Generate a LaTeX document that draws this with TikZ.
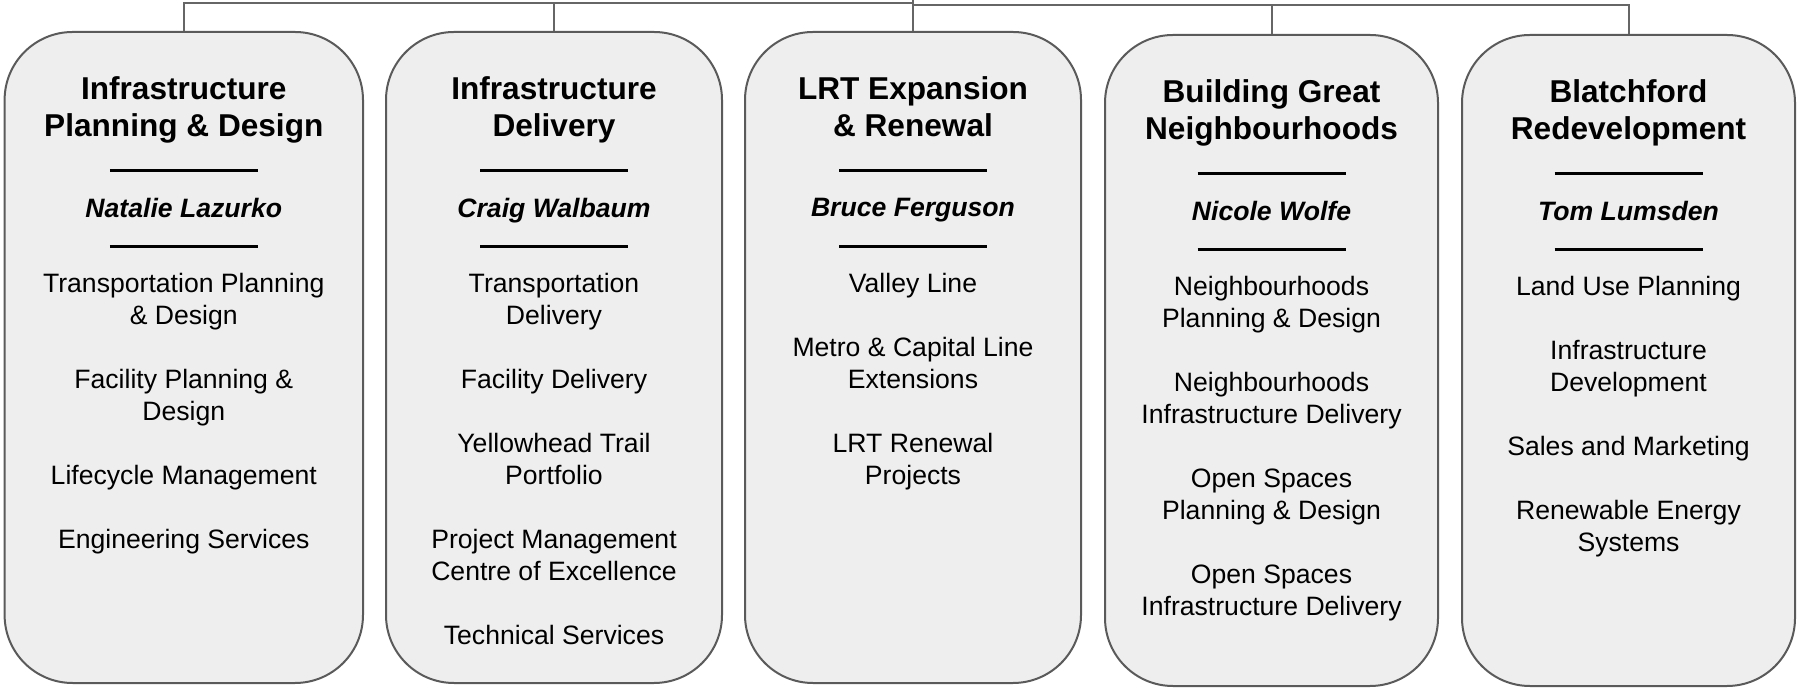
\documentclass[tikz,border=0pt]{standalone}
\usepackage{fontspec}
\setmainfont{Liberation Sans}
\usepackage{tikz}
\usetikzlibrary{positioning}
\definecolor{unitfill}{HTML}{EEEEEE}
\definecolor{unitdraw}{HTML}{5A5A5A}
\definecolor{linkgray}{HTML}{666666}

\begin{document}
\begin{tikzpicture}[x=0.5pt,y=-0.5pt,
  unit/.style={draw=unitdraw,line width=1pt,fill=unitfill,rounded corners=34pt,
    anchor=north,minimum height=325.5pt,inner sep=0pt},
  title/.style={inner sep=0pt,outer sep=0pt,align=center,
    font=\fontsize{15.8}{18.5}\selectfont\bfseries},
  head/.style={inner sep=0pt,outer sep=0pt,font=\fontsize{13.3}{16}\selectfont\bfseries\itshape},
  items/.style={inner sep=0pt,outer sep=0pt,align=center,font=\fontsize{13.3}{16}\selectfont},
  bar/.style={line width=1.5pt},
  link/.style={draw=linkgray,line width=1pt}]
\useasboundingbox (0,0) rectangle (1797,688);

% boxes
\node[unit,minimum width=179.2pt] (ipd) at (183.8,31) {};
\node[unit,minimum width=168pt] (ind) at (554,31) {};
\node[unit,minimum width=168pt] (lrt) at (913,31) {};
\node[unit,minimum width=166.5pt] (bgn) at (1271.5,34) {};
\node[unit,minimum width=166.5pt] (blr) at (1628.5,34) {};

% connectors
\coordinate (top) at (913,0);
\coordinate (busL) at (913,3);
\coordinate (busR) at (913,5);
\draw[link] (top) -- (lrt.north);
\draw[link] (busL) -| (ipd.north);
\draw[link] (busL) -| (ind.north);
\draw[link] (busR) -| (bgn.north);
\draw[link] (busR) -| (blr.north);

% titles
\node[title,below=23pt of ipd.north] (ipdT) {Infrastructure\\Planning \& Design};
\node[title,below=23pt of ind.north] (indT) {Infrastructure\\Delivery};
\node[title,below=23pt of lrt.north] (lrtT) {LRT Expansion\\\& Renewal};
\node[title,below=23pt of bgn.north] (bgnT) {Building Great\\Neighbourhoods};
\node[title,below=23pt of blr.north] (blrT) {Blatchford\\Redevelopment};

% rules
\foreach \u in {ipd,ind,lrt,bgn,blr}{
  \draw[bar] ([xshift=-37pt,yshift=-70pt]\u.north) -- ([xshift=37pt,yshift=-70pt]\u.north);
  \draw[bar] ([xshift=-37pt,yshift=-108pt]\u.north) -- ([xshift=37pt,yshift=-108pt]\u.north);
}

% heads
\node[head,below=83.5pt of ipd.north] (ipdH) {Natalie Lazurko};
\node[head,below=83.5pt of ind.north] (indH) {Craig Walbaum};
\node[head,below=83.5pt of lrt.north] (lrtH) {Bruce Ferguson};
\node[head,below=83.5pt of bgn.north] (bgnH) {Nicole Wolfe};
\node[head,below=83.5pt of blr.north] (blrH) {Tom Lumsden};

% sections
\node[items,below=121.3pt of ipd.north] (ipdS) {Transportation Planning\\\& Design\\[16pt]
  Facility Planning \&\\Design\\[16pt]Lifecycle Management\\[16pt]Engineering Services};
\node[items,below=121.3pt of ind.north] (indS) {Transportation\\Delivery\\[16pt]
  Facility Delivery\\[16pt]Yellowhead Trail\\Portfolio\\[16pt]
  Project Management\\Centre of Excellence\\[16pt]Technical Services};
\node[items,below=121.3pt of lrt.north] (lrtS) {Valley Line\\[16pt]
  Metro \& Capital Line\\Extensions\\[16pt]LRT Renewal\\Projects};
\node[items,below=121.3pt of bgn.north] (bgnS) {Neighbourhoods\\Planning \& Design\\[16pt]
  Neighbourhoods\\Infrastructure Delivery\\[16pt]Open Spaces\\Planning \& Design\\[16pt]
  Open Spaces\\Infrastructure Delivery};
\node[items,below=121.3pt of blr.north] (blrS) {Land Use Planning\\[16pt]
  Infrastructure\\Development\\[16pt]Sales and Marketing\\[16pt]
  Renewable Energy\\Systems};
\end{tikzpicture}
\end{document}
